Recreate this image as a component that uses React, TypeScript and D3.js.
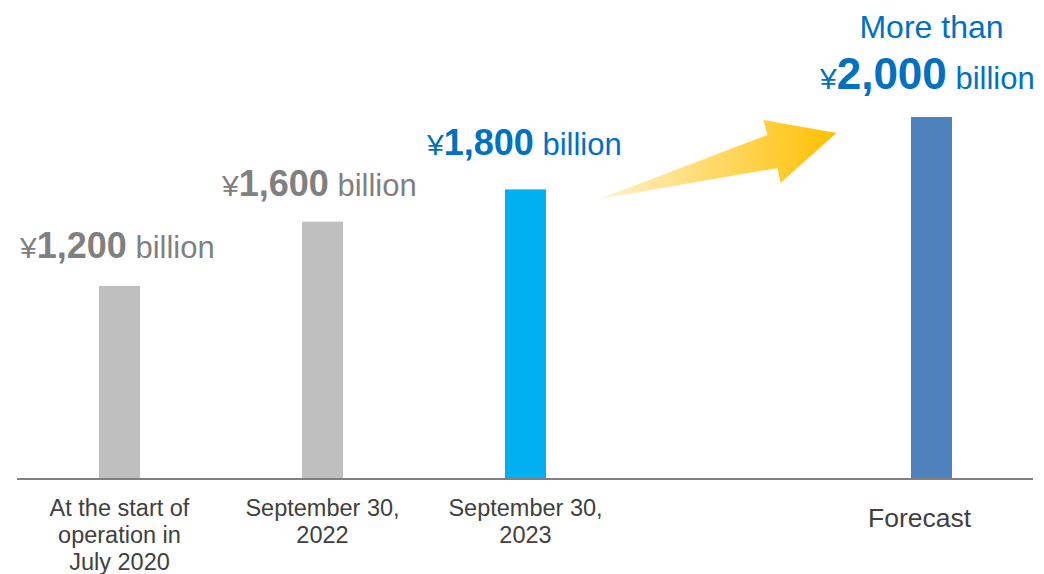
import React from "react";
import * as d3 from "d3";

const categories = ["At the start of|operation in|July 2020", "September 30,|2022", "September 30,|2023", "", "Forecast"];
const barValues = [1200, 1600, 1800, null, 2250];
const labelAmounts = ["1,200", "1,600", "1,800", null, "2,000"];
const barColors = ["#bfbfbf", "#bfbfbf", "#00b0f0", "none", "#4f81bd"];
const labelColors = ["#808080", "#808080", "#0070c0", "none", "#0070c0"];

const W = 1044, H = 574;
const FONT = "'Liberation Sans', Arial, sans-serif";

export default function App() {
  const x = d3.scalePoint<string>().domain(categories.map((_, i) => String(i))).range([119.5, 931.5]);
  const y = d3.scaleLinear().domain([0, 2250]).range([479, 117]);
  const bw = 41;

  const labelPos = [
    { x: 20, y: 258 },
    { x: 222, y: 196 },
    { x: 427, y: 155 },
    null,
    { x: 820, y: 89 },
  ];

  const x3 = x("2")!, x4 = x("4")!;
  const arrowPts: [number, number][] = [
    [x3 + 74, 199],
    [x3 + 242, 135],
    [x3 + 238, 120],
    [x4 - 95, 133],
    [x3 + 255, 183],
    [x3 + 252, 168],
  ];
  const line = d3.line().curve(d3.curveLinearClosed);

  return (
    <svg width={W} height={H} style={{ position: "absolute", left: 0, top: 0, fontFamily: FONT }}>
      <defs>
        <linearGradient id="arrowGrad" x1="0" y1="0" x2="1" y2="0">
          <stop offset="0" stopColor="#fff2cc" />
          <stop offset="1" stopColor="#ffc000" />
        </linearGradient>
      </defs>
      <rect width={W} height={H} fill="#fff" />
      {barValues.map((v, i) =>
        v == null ? null : (
          <rect key={"b" + i} x={x(String(i))! - bw / 2} y={y(v)} width={bw} height={y(0) - y(v)} fill={barColors[i]} />
        )
      )}
      <line x1={17} x2={1033} y1={y(0)} y2={y(0)} stroke="#808080" strokeWidth={2} />
      {categories.map((c, i) => {
        const lines = c ? c.split("|") : [];
        const n = lines.length;
        const y0 = n === 1 ? 527 : 516;
        const cx = x(String(i))! + (n === 1 ? -12 : 0);
        return (
          <text key={"c" + i} x={cx} textAnchor="middle" fontSize={n === 1 ? 26.5 : 23.5} fill="#404040">
            {lines.map((l, j) => (
              <tspan key={j} x={cx} y={y0 + j * 27}>{l}</tspan>
            ))}
          </text>
        );
      })}
      {labelAmounts.map((a, i) => {
        const p = labelPos[i];
        if (!a || !p) return null;
        const big = i === 4;
        return (
          <text key={"l" + i} x={p.x} y={p.y} fill={labelColors[i]}>
            <tspan fontSize={30}>¥</tspan>
            <tspan fontSize={big ? 44 : 36} fontWeight="bold">{a}</tspan>
            <tspan fontSize={31}> billion</tspan>
          </text>
        );
      })}
      <text x={x4} y={38} textAnchor="middle" fontSize={32} fill="#0070c0">More than</text>
      <path d={line(arrowPts)!} fill="url(#arrowGrad)" />
    </svg>
  );
}
